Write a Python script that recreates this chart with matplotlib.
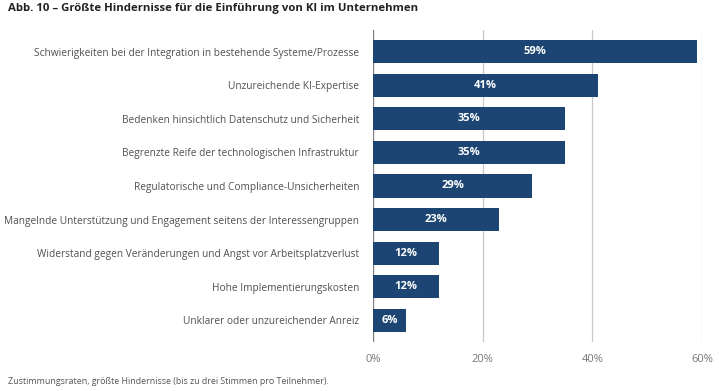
import matplotlib.pyplot as plt

plt.rcParams['font.family'] = ['Open Sans', 'DejaVu Sans']

# Daten
hindernisse = [
    "Schwierigkeiten bei der Integration in bestehende Systeme/Prozesse",
    "Unzureichende KI-Expertise",
    "Bedenken hinsichtlich Datenschutz und Sicherheit",
    "Begrenzte Reife der technologischen Infrastruktur",
    "Regulatorische und Compliance-Unsicherheiten",
    "Mangelnde Unterstützung und Engagement seitens der Interessengruppen",
    "Widerstand gegen Veränderungen und Angst vor Arbeitsplatzverlust",
    "Hohe Implementierungskosten",
    "Unklarer oder unzureichender Anreiz",
]
anteile = [59, 41, 35, 35, 29, 23, 12, 12, 6]
xticks = [0, 20, 40, 60]

bar_color = '#1c4573'
grid_color = '#c8c8c8'
text_color = '#505050'

fig = plt.figure(figsize=(7.19, 3.91), dpi=100)
ax = fig.add_axes([373 / 719, 1 - 342 / 391, (702 - 373) / 719, (342 - 30) / 391])

y = list(range(len(hindernisse)))
ax.barh(y, anteile, height=0.69, color=bar_color, zorder=3)

for yi, v in zip(y, anteile):
    ax.text(v / 2, yi, f"{v}%", ha='center', va='center', color='white',
            fontsize=8, fontweight='bold', zorder=4)

ax.set_xlim(0, 60)
ax.set_ylim(len(hindernisse) - 0.36, -0.64)
ax.set_xticks(xticks)
ax.set_xticklabels([f"{t}%" for t in xticks], color='#777777', fontsize=8)
ax.set_yticks(y)
ax.set_yticklabels(hindernisse, color=text_color, fontsize=7.3)
ax.tick_params(axis='both', length=0)
ax.tick_params(axis='x', pad=9)
ax.tick_params(axis='y', pad=10)

ax.grid(axis='x', color=grid_color, linewidth=0.9, zorder=0)
for s in ax.spines.values():
    s.set_visible(False)
ax.axvline(0, color='#808080', linewidth=0.9, zorder=2)

fig.text(8 / 719, 1 - 9 / 391, "Abb. 10 – Größte Hindernisse für die Einführung von KI im Unternehmen",
         fontsize=8.2, fontweight='bold', color='#222222', va='center', ha='left')
fig.text(8 / 719, 1 - 382 / 391, "Zustimmungsraten, größte Hindernisse (bis zu drei Stimmen pro Teilnehmer).",
         fontsize=6.4, color='#555555', va='center', ha='left')

fig.savefig('out.png', dpi=100)
